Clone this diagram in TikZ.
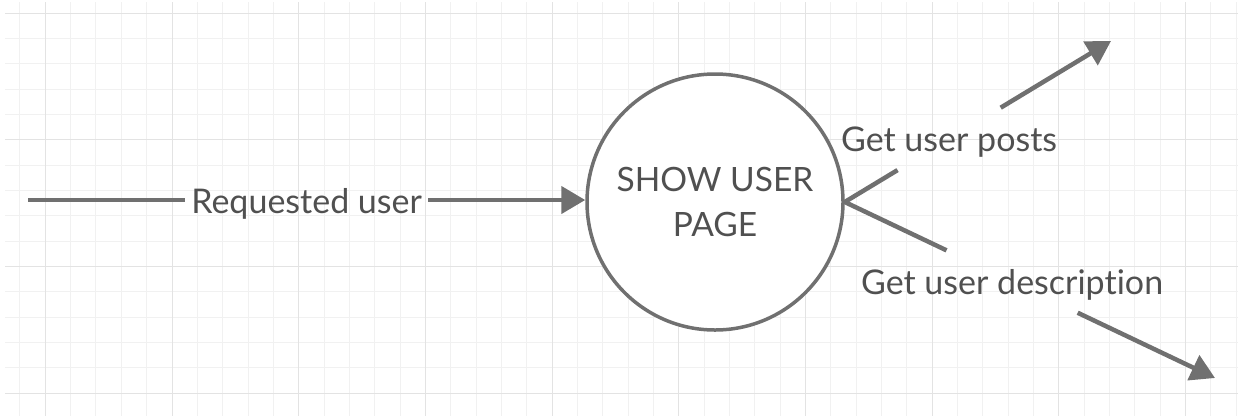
\documentclass[tikz,border=0pt]{standalone}
\usepackage{fontspec}
\setmainfont{Lato}[Ligatures=NoCommon]
\usetikzlibrary{arrows.meta}
\definecolor{linegray}{HTML}{707070}
\definecolor{textgray}{HTML}{505050}
\definecolor{gridmajor}{HTML}{E3E3E3}
\definecolor{gridminor}{HTML}{F1F1F1}
\tikzset{
  flow/.style={draw=linegray,line width=4.5pt},
  arrowflow/.style={flow,-{Triangle[length=24pt,width=27pt]}},
  lbl/.style={text=textgray,font=\fontsize{34}{40}\selectfont,inner xsep=6pt,minimum height=62pt,
    text height=32pt,text depth=6pt},
  process/.style={circle,draw=linegray,line width=3.5pt,fill=white,minimum size=256pt,inner sep=0pt,
    text=textgray,align=center,font=\fontsize{33.5}{45}\selectfont}
}

\begin{document}
\begin{tikzpicture}[x=1pt,y=-1pt]
\useasboundingbox (0,0) rectangle (1238,416);
\foreach \i in {-1,...,47} \draw[gridminor,line width=1pt] ({45.3+25.34*\i},2) -- ({45.3+25.34*\i},416);
\foreach \j in {0,...,15} \draw[gridminor,line width=1pt] (5,{13+25.34*\j}) -- (1238,{13+25.34*\j});
\foreach \i in {0,...,9} \draw[gridmajor,line width=1pt] ({45.3+126.7*\i},2) -- ({45.3+126.7*\i},416);
\foreach \j in {0,...,3} \draw[gridmajor,line width=1pt] (5,{13+126.7*\j}) -- (1238,{13+126.7*\j});

\node[process] (page) at (715,202) {SHOW USER\\PAGE};
\coordinate (src) at (28,200);
\coordinate (posts) at (1111,41);
\coordinate (descr) at (1215,378);

\path (src) -- node[lbl] (reqlbl) {Requested user} (page.west |- src);
\path (page.east) -- node[lbl,pos=0.392] (postslbl) {Get user posts} (posts);
\path (page.east) -- node[lbl,pos=0.452] (descrlbl) {Get user description} (descr);

\draw[flow] (src) -- (reqlbl);
\draw[arrowflow] (reqlbl) -- (page.west |- src);
\draw[flow] (page.east) -- (postslbl);
\draw[arrowflow] (postslbl) -- (posts);
\draw[flow] (page.east) -- (descrlbl);
\draw[arrowflow] (descrlbl) -- (descr);
\end{tikzpicture}
\end{document}
